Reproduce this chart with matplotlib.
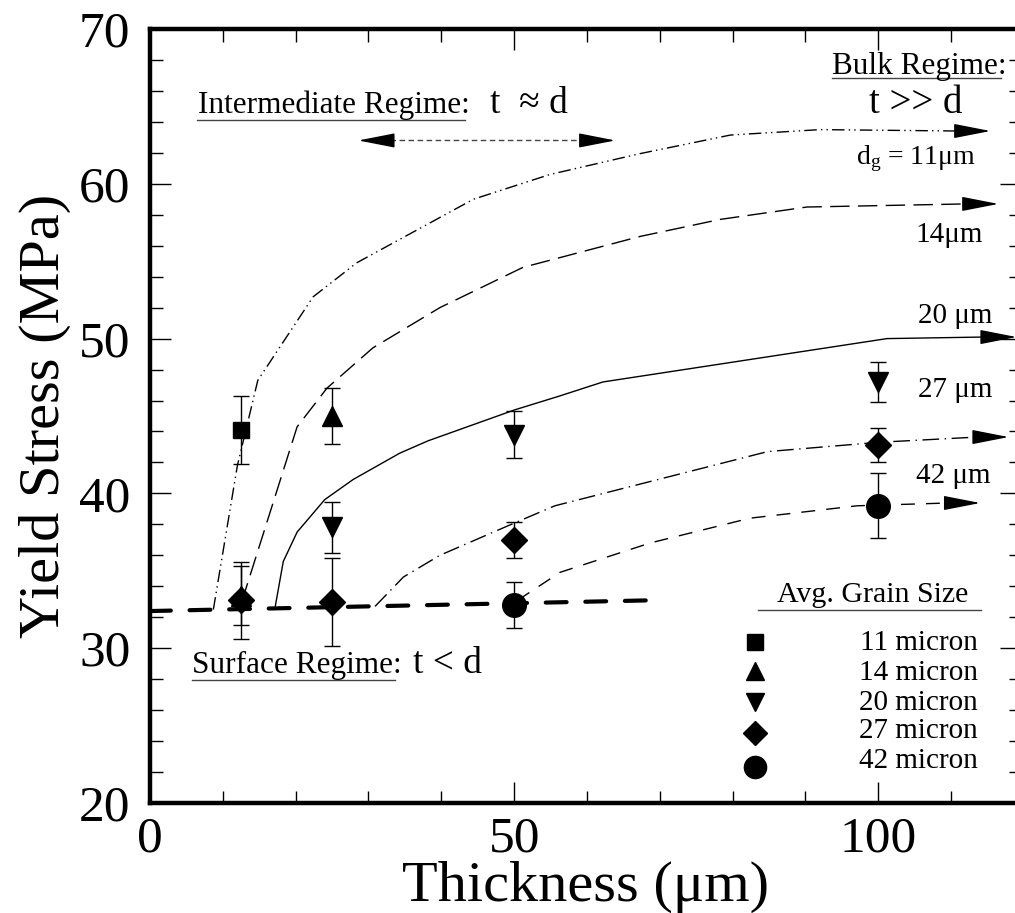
import matplotlib
matplotlib.use('Agg')
import matplotlib.pyplot as plt

plt.rcParams['font.family'] = ['Liberation Serif', 'DejaVu Serif']
plt.rcParams['mathtext.fontset'] = 'custom'
plt.rcParams['mathtext.rm'] = 'Liberation Serif'
plt.rcParams['mathtext.it'] = 'Liberation Serif:italic'

# measured points (thickness um, yield stress MPa, error)
sq_x = [12.5]
sq_y = [44.1]
sq_e = [2.2]
up_x = [12.5, 25]
up_y = [33.4, 45.0]
up_e = [1.9, 1.8]
dn_x = [25, 50, 100]
dn_y = [37.8, 43.8, 47.2]
dn_e = [1.65, 1.5, 1.3]
dm_x = [12.5, 25, 50, 100]
dm_y = [33.1, 33.0, 37.0, 43.1]
dm_e = [2.5, 2.85, 1.15, 1.1]
ci_x = [50, 100]
ci_y = [32.8, 39.2]
ci_e = [1.5, 2.1]

# model curves, last point = arrow tip
c11_x = [8.7, 12.0, 14.8, 22.4, 28.4, 44.4, 54.9, 67.3, 79.7, 92.0, 110.9, 115.4]
c11_y = [32.5, 41.8, 47.3, 52.7, 54.9, 59.0, 60.6, 61.95, 63.15, 63.5, 63.41, 63.41]
c14_x = [12.6, 20.2, 24.3, 30.6, 39.8, 51.2, 67.3, 78.3, 90.2, 112.0, 116.5]
c14_y = [33.0, 44.3, 46.8, 49.4, 52.0, 54.6, 56.6, 57.7, 58.5, 58.7, 58.7]
c20_x = [17.2, 18.3, 20.2, 24.0, 27.9, 34.3, 38.2, 50.1, 56.3, 62.2, 101.2, 114.3, 119.0]
c20_y = [32.7, 35.6, 37.5, 39.6, 40.9, 42.6, 43.4, 45.4, 46.3, 47.2, 50.0, 50.1, 50.1]
c27_x = [30.9, 34.8, 39.8, 50.1, 55.6, 84.8, 100.0, 113.6, 117.9]
c27_y = [32.7, 34.6, 36.0, 38.1, 39.2, 42.7, 43.3, 43.64, 43.64]
c42_x = [50.5, 56.3, 68.7, 82.4, 97.1, 109.6, 114.0]
c42_y = [33.1, 34.9, 36.8, 38.4, 39.2, 39.38, 39.38]
base_x = [0, 69.5]
base_y = [32.4, 33.1]

fig = plt.figure(figsize=(10.15, 9.13), dpi=100)
ax = fig.add_axes([150/1015, 110/913, 871/1015, 774/913])
ax.set_xlim(0, 119.6)
ax.set_ylim(20, 70)

def curve(xs, ys, ls):
    ax.plot(xs[:-1], ys[:-1], color='k', lw=1.0, ls=ls, clip_on=False)
    ax.annotate('', xy=(xs[-1], ys[-1]), xytext=(xs[-2], ys[-2]),
                arrowprops=dict(arrowstyle='-|>,head_length=2.3,head_width=0.45',
                                color='k', lw=1.0, shrinkA=0, shrinkB=0))

curve(c11_x, c11_y, (0, (9, 3, 1, 3, 1, 3)))
curve(c14_x, c14_y, (0, (14, 6)))
curve(c20_x, c20_y, '-')
curve(c27_x, c27_y, (0, (12, 4, 1, 4)))
curve(c42_x, c42_y, (0, (10, 8)))
ax.plot(base_x, base_y, color='k', lw=3.0, ls=(0, (5, 4.5)), dash_capstyle='round')

ekw = dict(fmt='none', ecolor='k', elinewidth=1.0, capsize=6, capthick=1.0)
for xs, ys, es in [(sq_x, sq_y, sq_e), (up_x, up_y, up_e), (dn_x, dn_y, dn_e),
                   (dm_x, dm_y, dm_e), (ci_x, ci_y, ci_e)]:
    ax.errorbar(xs, ys, yerr=es, **ekw)
ax.plot(sq_x, sq_y, 's', color='k', ms=12)
ax.plot(up_x, up_y, '^', color='k', ms=15)
ax.plot(dn_x, dn_y, 'v', color='k', ms=15)
ax.plot(dm_x, dm_y, 'D', color='k', ms=13)
ax.plot(ci_x, ci_y, 'o', color='k', ms=17)

# regime annotations
ax.text(6.6, 64.57, 'Intermediate Regime:', fontsize=22.5, va='baseline')
ax.plot([6.5, 43.3], [64.1, 64.1], color='#444444', lw=1.0)
ax.text(46.7, 64.57, 't  \u2248 d', fontsize=27, va='baseline')
ax.plot([33.0, 59.5], [62.8, 62.8], color='#444444', lw=1.0, ls=(0, (4, 2.5)))
for a, b in [(33.0, 28.6), (59.5, 63.9)]:
    ax.annotate('', xy=(b, 62.8), xytext=(a, 62.8),
                arrowprops=dict(arrowstyle='-|>,head_length=2.3,head_width=0.45',
                                color='k', lw=1.0, shrinkA=0, shrinkB=0))

ax.text(117.6, 67.1, 'Bulk Regime:', fontsize=22.5, va='baseline', ha='right')
ax.plot([93.7, 116.9], [66.85, 66.85], color='#444444', lw=1.0)
ax.text(105.1, 64.57, 't >> d', fontsize=28, va='baseline', ha='center')
ax.text(97.0, 61.3, 'd$_{\\mathrm{g}}$ = 11\u03bcm', fontsize=20, va='baseline')
ax.text(114.3, 56.24, '14\u03bcm', fontsize=21, va='baseline', ha='right')
ax.text(115.7, 51.0, '20 \u03bcm', fontsize=21, va='baseline', ha='right')
ax.text(115.7, 46.2, '27 \u03bcm', fontsize=21, va='baseline', ha='right')
ax.text(115.4, 40.7, '42 \u03bcm', fontsize=21, va='baseline', ha='right')

ax.text(5.8, 28.4, 'Surface Regime:', fontsize=22.5, va='baseline')
ax.plot([5.8, 33.7], [27.95, 27.95], color='#444444', lw=1.0)
ax.text(36.1, 28.4, 't < d', fontsize=27, va='baseline')

# hand made legend
leg_mk = ['s', '^', 'v', 'D', 'o']
leg_ms = [11, 13, 13, 12, 16]
leg_lab = ['11 micron', '14 micron', '20 micron', '27 micron', '42 micron']
leg_my = [30.4, 28.5, 26.5, 24.5, 22.3]
leg_ty = [29.88, 27.95, 26.0, 24.2, 22.26]
ax.text(99.2, 33.0, 'Avg. Grain Size', fontsize=21.5, va='baseline', ha='center')
ax.plot([83.5, 114.1], [32.47, 32.47], color='#444444', lw=1.0)
for mk, ms, lab, my, ty in zip(leg_mk, leg_ms, leg_lab, leg_my, leg_ty):
    ax.plot([83.1], [my], mk, color='k', ms=ms)
    ax.text(113.7, ty, lab, fontsize=21, va='baseline', ha='right')

# axes styling
ax.set_xticks([0, 50, 100])
ax.set_xticks(range(10, 120, 10), minor=True)
ax.set_yticks(range(20, 71, 10))
ax.set_yticks(range(22, 70, 2), minor=True)
ax.tick_params(which='both', direction='in', top=True, right=True, width=1.0)
ax.tick_params(which='major', length=15, labelsize=37)
ax.tick_params(which='minor', length=9)
ax.tick_params(axis='y', which='major', pad=14)
ax.tick_params(axis='x', which='major', pad=9)
for s in ax.spines.values():
    s.set_linewidth(3.2)

ax.set_xlabel('Thickness (\u03bcm)', fontsize=42, labelpad=-1)
ax.set_ylabel('Yield Stress (MPa)', fontsize=42, labelpad=6)

fig.savefig('out.png', dpi=100)
